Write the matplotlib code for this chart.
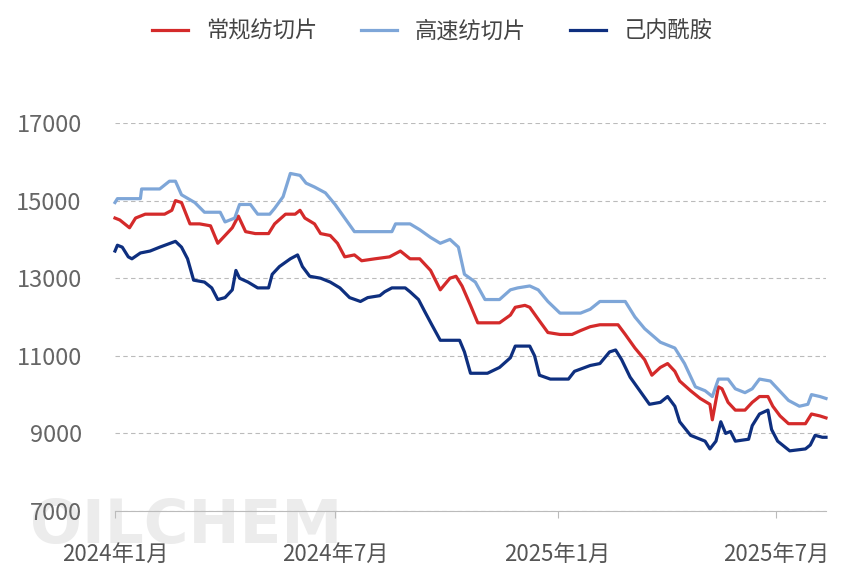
import datetime as dt
import matplotlib
matplotlib.use("Agg")
import matplotlib.pyplot as plt

plt.rcParams["font.family"] = ["Noto Sans CJK SC", "DejaVu Sans"]

start = dt.date(2024, 1, 1)

# days since 2024-01-01 and prices
red_days = [0, 4, 12, 17, 25, 41, 47, 50, 55, 62, 70, 79, 85, 91, 97, 102, 108, 116, 127, 132, 141, 149, 153, 157, 165, 170, 178, 184, 190, 198, 204, 215, 227, 236, 244, 252, 261, 269, 277, 282, 287, 294, 300, 308, 318, 327, 331, 339, 343, 351, 358, 368, 378, 385, 393, 401, 409, 416, 422, 430, 438, 444, 451, 457, 463, 467, 476, 484, 492, 494, 499, 502, 507, 513, 521, 527, 533, 540, 544, 550, 557, 571, 576, 583, 588]
red_vals = [14550, 14500, 14300, 14550, 14650, 14650, 14750, 15000, 14950, 14400, 14400, 14350, 13900, 14100, 14300, 14600, 14200, 14150, 14150, 14400, 14650, 14650, 14750, 14550, 14400, 14150, 14100, 13900, 13550, 13600, 13450, 13500, 13550, 13700, 13500, 13500, 13200, 12700, 13000, 13050, 12800, 12300, 11850, 11850, 11850, 12050, 12250, 12300, 12250, 11900, 11600, 11550, 11550, 11650, 11750, 11800, 11800, 11800, 11550, 11200, 10900, 10500, 10700, 10800, 10600, 10350, 10100, 9900, 9750, 9350, 10200, 10150, 9800, 9600, 9600, 9800, 9950, 9950, 9700, 9450, 9250, 9250, 9500, 9450, 9400]

blue_days = [0, 2, 21, 22, 37, 45, 50, 55, 66, 74, 87, 91, 99, 103, 112, 118, 128, 132, 139, 145, 153, 158, 165, 174, 182, 190, 198, 219, 229, 232, 244, 252, 261, 269, 277, 284, 289, 298, 306, 318, 327, 333, 343, 350, 358, 368, 385, 393, 401, 422, 430, 438, 451, 463, 471, 480, 488, 494, 499, 507, 513, 521, 527, 533, 542, 548, 557, 566, 573, 576, 583, 588]
blue_vals = [14950, 15050, 15050, 15300, 15300, 15500, 15500, 15150, 14950, 14700, 14700, 14450, 14550, 14900, 14900, 14650, 14650, 14800, 15100, 15700, 15650, 15450, 15350, 15200, 14900, 14550, 14200, 14200, 14200, 14400, 14400, 14250, 14050, 13900, 14000, 13800, 13100, 12900, 12450, 12450, 12700, 12750, 12800, 12700, 12400, 12100, 12100, 12200, 12400, 12400, 12000, 11700, 11350, 11200, 10800, 10200, 10100, 9950, 10400, 10400, 10150, 10050, 10150, 10400, 10350, 10150, 9850, 9700, 9750, 10000, 9950, 9900]

navy_days = [0, 2, 6, 11, 14, 21, 29, 37, 50, 55, 60, 65, 74, 80, 85, 91, 97, 100, 103, 110, 118, 127, 130, 136, 145, 151, 155, 161, 170, 178, 186, 194, 203, 209, 219, 223, 229, 240, 244, 251, 256, 262, 269, 279, 285, 289, 294, 308, 318, 327, 331, 343, 347, 351, 360, 375, 380, 393, 401, 409, 414, 419, 426, 434, 442, 451, 457, 463, 467, 476, 484, 488, 492, 497, 501, 505, 509, 513, 524, 527, 533, 540, 543, 548, 554, 558, 571, 575, 579, 585, 588]
navy_vals = [13700, 13850, 13800, 13550, 13500, 13650, 13700, 13800, 13950, 13800, 13500, 12950, 12900, 12750, 12450, 12500, 12700, 13200, 13000, 12900, 12750, 12750, 13100, 13300, 13500, 13600, 13300, 13050, 13000, 12900, 12750, 12500, 12400, 12500, 12550, 12650, 12750, 12750, 12650, 12450, 12150, 11800, 11400, 11400, 11400, 11100, 10550, 10550, 10700, 10950, 11250, 11250, 11000, 10500, 10400, 10400, 10600, 10750, 10800, 11100, 11150, 10900, 10450, 10100, 9750, 9800, 9950, 9700, 9300, 8950, 8850, 8800, 8600, 8800, 9300, 9000, 9050, 8800, 8850, 9200, 9500, 9600, 9100, 8800, 8650, 8550, 8600, 8700, 8950, 8900, 8900]

names = ["常规纺切片", "高速纺切片", "己内酰胺"]
colors = ["#d42a2a", "#7ea6d8", "#0e2f7f"]
tick_dates = [dt.date(2024, 1, 1), dt.date(2024, 7, 1), dt.date(2025, 1, 1), dt.date(2025, 7, 1)]
tick_labels = ["2024年1月", "2024年7月", "2025年1月", "2025年7月"]


def to_dates(days):
    return [start + dt.timedelta(days=d) for d in days]


fig = plt.figure(figsize=(8.65, 5.87), dpi=100)
fig.text(0.035, 0.075, "OILCHEM", fontsize=44, color="#ececec", family="DejaVu Sans",
         fontweight="bold", zorder=-5)
ax = fig.add_axes([115 / 865, 1 - 511 / 587, (826 - 115) / 865, (511 - 123) / 587])
ax.set_facecolor("none")

for d, v, n, c in [(red_days, red_vals, names[0], colors[0]),
                   (blue_days, blue_vals, names[1], colors[1]),
                   (navy_days, navy_vals, names[2], colors[2])]:
    ax.plot(to_dates(d), v, color=c, lw=2.3, label=n, clip_on=False)

ax.set_xlim(start, start + dt.timedelta(days=588))
ax.set_ylim(7000, 17000)
ax.set_yticks([7000, 9000, 11000, 13000, 15000, 17000])
ax.set_xticks(tick_dates)
ax.set_xticklabels(tick_labels)
ax.grid(axis="y", ls=(0, (4, 3)), color="#bbbbbb", lw=0.8)
for s in ["top", "right", "left"]:
    ax.spines[s].set_visible(False)
ax.spines["bottom"].set_color("#bbbbbb")
ax.tick_params(axis="y", length=0, labelsize=17, labelcolor="#666666", pad=24)
ax.tick_params(axis="x", length=5, color="#bbbbbb", labelsize=16, labelcolor="#555555", pad=18)

fig.legend(loc="upper center", bbox_to_anchor=(0.5, 1.0), ncol=3, frameon=False,
           fontsize=16, handlelength=1.6, columnspacing=2.0, labelcolor="#444444")

fig.savefig("out.png", dpi=100)
